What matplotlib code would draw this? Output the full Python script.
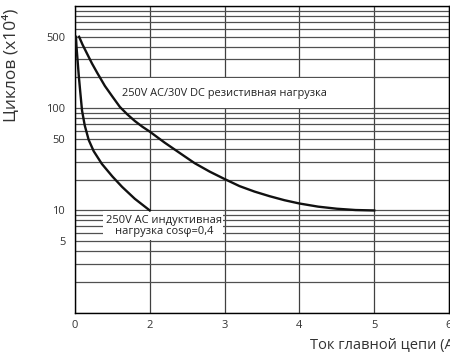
import numpy as np
import matplotlib
matplotlib.use('Agg')
import matplotlib.pyplot as plt
import matplotlib.patches as patches
from matplotlib.ticker import FixedLocator, FixedFormatter, LogLocator, NullFormatter

plt.rcParams['font.family'] = ['Open Sans', 'DejaVu Sans']

# ось X в исходнике: подписи 0,2,3,4,5,6 стоят с равным шагом
x_pos = [1, 2, 3, 4, 5, 6]
x_labels = ['0', '2', '3', '4', '5', '6']
y_ticks = [5, 10, 50, 100, 500]

# резистивная нагрузка (250V AC / 30V DC)
res_x = [1.055, 1.1, 1.15, 1.227, 1.3, 1.4, 1.5, 1.6, 1.7, 1.8, 1.9, 2.0,
         2.2, 2.4, 2.6, 2.8, 3.0, 3.2, 3.4, 3.6, 3.8, 4.0, 4.25, 4.5, 4.75, 5.0]
res_y = [500, 420, 355, 274, 220, 165, 130, 103, 87, 75, 66, 59,
         46, 36.5, 29, 24, 20.3, 17.3, 15.3, 13.8, 12.6, 11.7, 10.9, 10.4, 10.1, 10]

# индуктивная нагрузка cos=0,4
ind_x = [1.013, 1.02, 1.035, 1.05, 1.07, 1.094, 1.13, 1.183, 1.25, 1.36, 1.5, 1.63, 1.8, 2.0]
ind_y = [500, 400, 290, 210, 145, 95, 68, 49, 38, 28.5, 21.5, 17, 13, 10]

fig = plt.figure(figsize=(4.5, 3.61), dpi=100)
ax = fig.add_axes([75 / 450, 1 - 312.7 / 361, 374 / 450, (312.7 - 6) / 361])

ax.set_yscale('log')
ax.set_xlim(1, 6)
ax.set_ylim(1, 1000)

ax.set_xticks(x_pos)
ax.set_xticklabels(x_labels)
ax.yaxis.set_major_locator(FixedLocator(y_ticks))
ax.yaxis.set_major_formatter(FixedFormatter([str(v) for v in y_ticks]))
ax.yaxis.set_minor_locator(LogLocator(base=10, subs=np.arange(1, 10), numticks=20))
ax.yaxis.set_minor_formatter(NullFormatter())

ax.tick_params(axis='both', which='both', length=0, labelsize=8, colors='#333333')
ax.tick_params(axis='y', pad=7)
ax.tick_params(axis='x', pad=5)

ax.yaxis.grid(True, which='both', color='#505050', linewidth=0.9)
ax.xaxis.grid(True, which='major', color='#404040', linewidth=0.9)
ax.set_axisbelow(True)
for s in ax.spines.values():
    s.set_color('black')
    s.set_linewidth(1.0)

# белые подложки под подписи
ax.add_patch(patches.Rectangle((1.6, 101.5), 3.37, 96, facecolor='white',
                               edgecolor='none', zorder=1.5))
ax.add_patch(patches.Rectangle((1.375, 5.15), 1.6, 4.7, facecolor='white',
                               edgecolor='none', zorder=1.5))

ax.plot(res_x, res_y, color='#111111', linewidth=1.7, zorder=3)
ax.plot(ind_x, ind_y, color='#111111', linewidth=1.7, zorder=3)

ax.text(1.63, 138, '250V AC/30V DC резистивная нагрузка', fontsize=7.9,
        color='#222222', va='center', ha='left', zorder=4)
ax.text(2.19, 7.1, '250V AC индуктивная\nнагрузка cosφ=0,4', fontsize=8,
        color='#222222', va='center', ha='center', linespacing=1.0, zorder=4)

fig.text(12 / 450, 1 - 65 / 361, 'Циклов (x10⁴)', rotation=90, fontsize=12.5,
         color='#333333', ha='center', va='center')
fig.text(310 / 450, 1 - 346 / 361, 'Ток главной цепи (A)', fontsize=10.5,
         color='#333333', ha='left', va='center')

fig.savefig('out.png', dpi=100)
